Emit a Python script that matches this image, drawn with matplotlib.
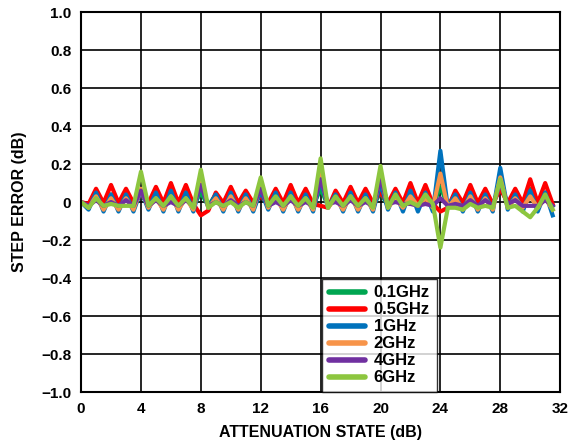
import numpy as np
import matplotlib
matplotlib.use('Agg')
import matplotlib.pyplot as plt

plt.rcParams['font.family'] = ['Liberation Sans', 'DejaVu Sans']
plt.rcParams['font.weight'] = 'bold'

# attenuation states, 0.5 dB steps
stany = np.arange(0, 32, 0.5)

f_01 = [0, -0.02, 0.05, -0.02, 0.04, -0.02, 0.04, -0.02,
        0.05, -0.02, 0.04, -0.02, 0.05, -0.02, 0.04, -0.02,
        0.05, -0.02, 0.04, -0.02, 0.04, -0.02, 0.04, -0.02,
        0.05, -0.02, 0.04, -0.02, 0.05, -0.02, 0.04, -0.02,
        0.07, -0.02, 0.03, -0.02, 0.04, -0.02, 0.04, -0.02,
        0.05, -0.02, 0.04, -0.02, 0.05, -0.02, 0.04, -0.02,
        0.08, -0.02, 0.04, -0.02, 0.05, -0.02, 0.04, -0.02,
        0.10, -0.02, 0.04, -0.02, 0.07, -0.02, 0.05, -0.02]

f_05 = [0, -0.01, 0.07, -0.005, 0.09, -0.005, 0.07, -0.005,
        0.04, -0.005, 0.08, -0.005, 0.10, -0.005, 0.09, -0.01,
        -0.07, -0.045, 0.05, -0.005, 0.08, -0.005, 0.06, -0.005,
        0.03, -0.005, 0.07, -0.005, 0.09, -0.005, 0.07, -0.01,
        -0.02, -0.03, 0.06, -0.005, 0.08, -0.005, 0.07, -0.005,
        0.05, -0.005, 0.07, -0.005, 0.10, -0.005, 0.09, -0.01,
        -0.05, -0.03, 0.06, -0.005, 0.09, -0.005, 0.07, -0.01,
        0.07, -0.005, 0.07, -0.005, 0.12, -0.005, 0.10, -0.01]

f_1 = [0, -0.04, 0.05, -0.05, 0.04, -0.05, 0.04, -0.05,
       0.06, -0.04, 0.05, -0.05, 0.06, -0.05, 0.05, -0.05,
       0.10, -0.03, 0.04, -0.05, 0.05, -0.05, 0.04, -0.05,
       0.06, -0.04, 0.05, -0.05, 0.05, -0.05, 0.04, -0.05,
       0.12, -0.03, 0.04, -0.05, 0.05, -0.05, 0.04, -0.05,
       0.10, -0.04, 0.05, -0.05, 0.06, -0.05, 0.05, -0.05,
       0.27, -0.03, 0.04, -0.05, 0.05, -0.05, 0.04, -0.05,
       0.18, -0.04, 0.04, -0.05, 0.06, -0.05, 0.05, -0.07]

f_2 = [0, -0.03, 0.03, -0.04, 0.02, -0.04, 0.02, -0.04,
       0.07, -0.03, 0.02, -0.04, 0.03, -0.04, 0.02, -0.04,
       0.12, -0.03, 0.02, -0.04, 0.03, -0.04, 0.02, -0.04,
       0.09, -0.03, 0.02, -0.04, 0.03, -0.04, 0.02, -0.04,
       0.15, -0.03, 0.02, -0.04, 0.03, -0.04, 0.02, -0.04,
       0.14, -0.03, 0.02, -0.03, 0.03, -0.02, 0.02, -0.03,
       0.15, -0.03, 0.02, -0.04, 0.03, -0.04, 0.02, -0.04,
       0.13, -0.03, 0.02, -0.03, 0.03, -0.03, 0.02, -0.04]

f_4 = [0, -0.02, 0.01, -0.02, 0.0, -0.02, 0.01, -0.02,
       0.06, -0.02, 0.01, -0.02, 0.0, -0.02, 0.01, -0.02,
       0.09, -0.02, 0.0, -0.02, 0.01, -0.02, 0.0, -0.02,
       0.07, -0.02, 0.0, -0.02, 0.01, -0.02, 0.0, -0.02,
       0.12, -0.01, 0.0, -0.02, 0.01, -0.02, 0.0, -0.02,
       0.12, -0.01, 0.0, -0.01, -0.01, -0.02, -0.01, -0.02,
       0.02, -0.02, -0.01, -0.02, 0.01, -0.02, 0.01, -0.02,
       0.10, -0.01, 0.01, -0.02, -0.02, -0.02, 0.01, -0.02]

f_6 = [0, -0.03, 0.02, -0.02, -0.01, -0.02, -0.02, -0.02,
       0.16, -0.02, 0.02, -0.02, 0.03, -0.02, 0.02, -0.03,
       0.17, -0.03, 0.0, -0.02, 0.0, -0.03, 0.0, -0.02,
       0.13, -0.02, 0.03, -0.02, 0.03, -0.02, 0.02, -0.03,
       0.23, -0.03, 0.03, -0.02, 0.03, -0.02, 0.02, -0.03,
       0.19, -0.03, 0.04, -0.02, 0.0, -0.02, 0.04, -0.01,
       -0.24, -0.03, -0.03, -0.04, -0.01, -0.03, -0.02, -0.03,
       0.12, -0.03, -0.02, -0.05, -0.08, -0.03, 0.04, -0.04]

serie = [('0.1GHz', f_01, '#00a651'),
         ('0.5GHz', f_05, '#ff0000'),
         ('1GHz', f_1, '#0072bc'),
         ('2GHz', f_2, '#f7944a'),
         ('4GHz', f_4, '#7030a0'),
         ('6GHz', f_6, '#8dc63f')]

fig = plt.figure(figsize=(5.71, 4.48), dpi=100)
ax = fig.add_axes([0.142, 0.125, 0.839, 0.848])

for nazwa, wart, kolor in serie:
    ax.plot(stany, wart, color=kolor, lw=3.0, label=nazwa)

ax.set_xlim(0, 32)
ax.set_ylim(-1, 1)
ax.set_xticks(np.arange(0, 33, 4))
ax.set_yticks(np.arange(-1, 1.01, 0.2))
ax.set_yticklabels(['\u22121.0', '\u22120.8', '\u22120.6', '\u22120.4', '\u22120.2',
                    '0', '0.2', '0.4', '0.6', '0.8', '1.0'])
ax.tick_params(length=0, labelsize=11, pad=7)
ax.grid(True, color='black', lw=1.2)
for s in ax.spines.values():
    s.set_linewidth(1.5)

ax.set_xlabel('ATTENUATION STATE (dB)', fontsize=11.5, fontweight='bold', labelpad=7)
ax.set_ylabel('STEP ERROR (dB)', fontsize=11.5, fontweight='bold', labelpad=10)

leg = ax.legend(loc='lower left', bbox_to_anchor=(0.503, 0.0), borderaxespad=0,
                frameon=True, fancybox=False, edgecolor='black', fontsize=12,
                handlelength=2.2, handletextpad=0.5, borderpad=0.4,
                labelspacing=0.12)
leg.get_frame().set_linewidth(1.0)
for t in leg.get_texts():
    t.set_fontweight('bold')
for l in leg.get_lines():
    l.set_linewidth(4)
    l.set_solid_capstyle('round')

fig.savefig('out.png', dpi=100)
